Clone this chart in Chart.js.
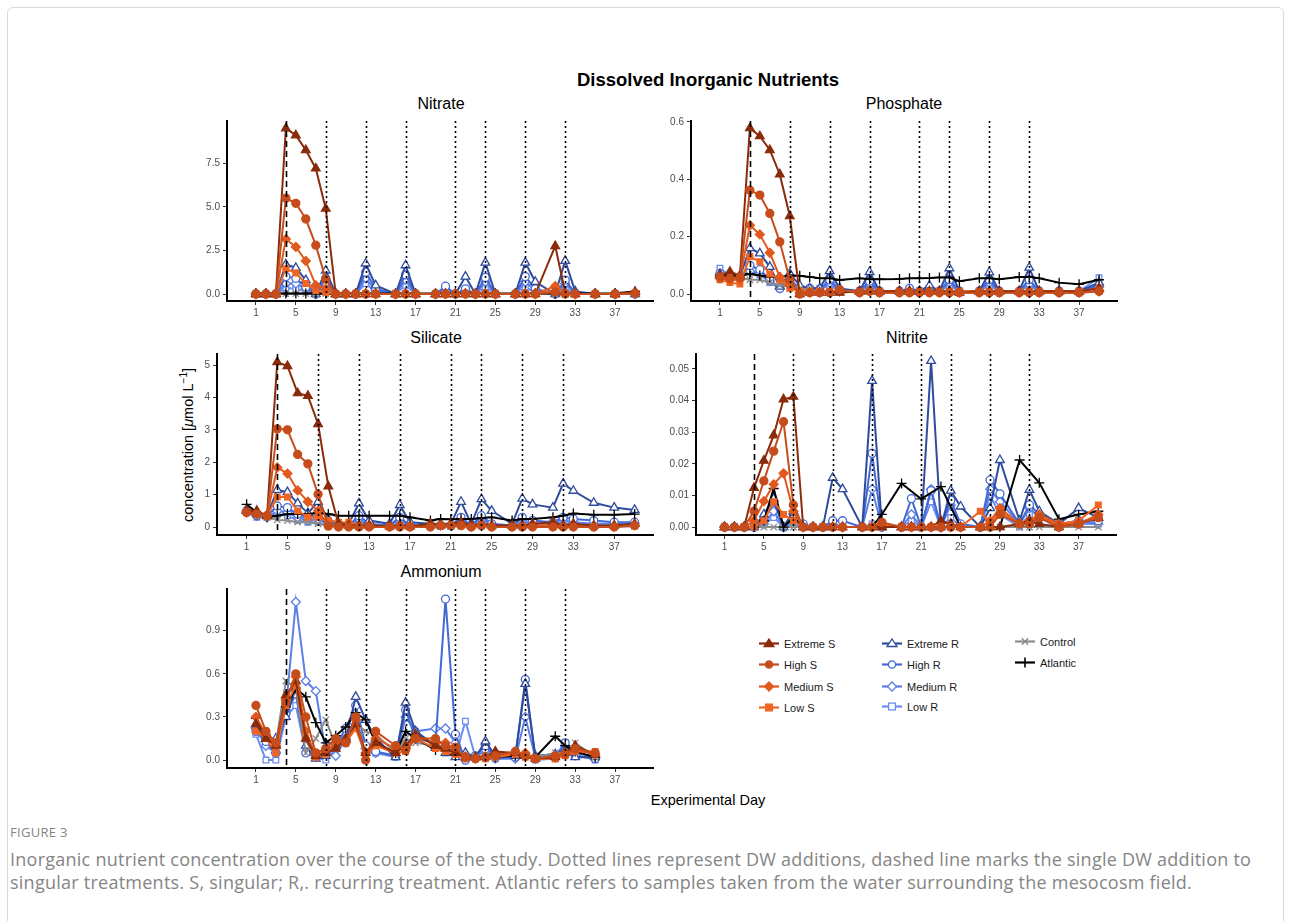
<!DOCTYPE html>
<html lang="en">
<head>
  <meta charset="utf-8">
  <title>Dissolved Inorganic Nutrients</title>
  <script src="https://cdn.jsdelivr.net/npm/chart.js@4.4.1/dist/chart.umd.min.js"></script>
  <style>
    html, body { margin: 0; padding: 0; background: #fff; }
    #page { position: relative; width: 1290px; height: 921px; overflow: hidden; font-family: 'Liberation Sans', Arial, sans-serif; }
    #frame { position: absolute; left: 7px; top: 7px; width: 1275px; height: 940px; border: 1px solid #d9d9d9; border-radius: 6px; }
    .panel { position: absolute; }
    .txt { position: absolute; white-space: nowrap; color: #000; }
    .ptitle { font-size: 16px; transform: translateX(-50%); }
    .leg { position: absolute; font-size: 11px; color: #1a1a1a; white-space: nowrap; }
    .leg svg { position: absolute; left: 0; top: -1px; }
    .leg span { position: absolute; left: 27px; top: 0; }
    .cap { position: absolute; left: 10px; white-space: nowrap; color: #858585; font-family: 'Open Sans', sans-serif; }
  </style>
</head>
<body>
<div id="page">
  <div id="frame"></div>

  <div class="txt" style="left:708px; top:69px; transform:translateX(-50%); font-size:18.5px; font-weight:bold;">Dissolved Inorganic Nutrients</div>
  <div class="txt ptitle" style="left:441px; top:95px;">Nitrate</div>
  <div class="txt ptitle" style="left:904px; top:95px;">Phosphate</div>
  <div class="txt ptitle" style="left:436px; top:329px;">Silicate</div>
  <div class="txt ptitle" style="left:907px; top:329px;">Nitrite</div>
  <div class="txt ptitle" style="left:441px; top:563px;">Ammonium</div>
  <div class="txt" style="left:187px; top:445px; font-size:14.5px; transform:translate(-50%,-50%) rotate(-90deg);">concentration [<i>μ</i>mol L<sup style="font-size:10px;">−1</sup>]</div>
  <div class="txt" style="left:708px; top:792px; transform:translateX(-50%); font-size:14.5px;">Experimental Day</div>

  <canvas id="nitrate" class="panel"></canvas>
  <canvas id="phosphate" class="panel"></canvas>
  <canvas id="silicate" class="panel"></canvas>
  <canvas id="nitrite" class="panel"></canvas>
  <canvas id="ammonium" class="panel"></canvas>

  <div id="legend"></div>

  <div class="cap" style="top:823px; font-size:13px; letter-spacing:0.3px;">FIGURE 3</div>
  <div class="cap" style="top:847px; font-size:18px; letter-spacing:0.25px;">Inorganic nutrient concentration over the course of the study. Dotted lines represent DW additions, dashed line marks the single DW addition to</div>
  <div class="cap" style="top:870px; font-size:18px; letter-spacing:0.25px;">singular treatments. S, singular; R,. recurring treatment. Atlantic refers to samples taken from the water surrounding the mesocosm field.</div>
</div>

<script>
// sampling days and axis ticks
const days = [1,2,3,4,5,6,7,8,9,10,11,12,13,15,16,17,19,20,21,22,23,24,25,27,28,29,31,32,33,35,37,39];
const xTicks = [1,5,9,13,17,21,25,29,33,37];
const dwDays = [8,12,16,21,24,28,32];   // dotted lines
const singleDwDay = 4;                  // dashed line

const seriesNames = ['Extreme S','High S','Medium S','Low S','Extreme R','High R','Medium R','Low R','Control','Atlantic'];

// ---- Nitrate
const nitrateTicks = [0, 2.5, 5, 7.5];
const nitrateExtremeS = [0,0,0,9.5,9.1,8.25,7.2,4.9,0,0,0,0,0,0,0,0,0,0,0,0,0,0,0,0,0,0,2.75,0.1,0,0,0,0.12];
const nitrateHighS    = [0,0,0,5.5,5.2,4.3,2.8,0.85,0,0,0,0,0,0,0,0,0,0,0,0,0,0,0,0,0,0,0.1,0,0,0,0,0.05];
const nitrateMediumS  = [0,0,0,3.15,2.7,1.9,0.5,0.3,0,0,0,0,0,0,0,0,0,0,0,0,0,0,0,0,0,0,0.45,0.05,0,0,0,0.05];
const nitrateLowS     = [0,0,0,1.45,1.2,0.6,0.2,0.1,0,0,0,0,0,0,0,0,0,0,0,0,0,0,0,0,0,0,0.2,0,0,0,0,0.02];
const nitrateExtremeR = [0,0,0,1.7,1.5,0.8,0,1.35,0,0,0,1.75,0.5,0,1.65,0,0,0,0,1.0,0,1.8,0,0,1.8,0.7,0,1.9,0.15,0,0,0];
const nitrateHighR    = [0,0,0,1.0,0.9,0.4,0,0.9,0,0,0,1.25,0.3,0,1.1,0,0,0.45,0,0.3,0,0.95,0,0,1.0,0.3,0,0.8,0.05,0,0,0];
const nitrateMediumR  = [0,0,0,0.6,0.6,0.3,0,0.6,0,0,0,0.9,0.2,0,0.8,0,0,0.2,0,0.2,0,0.7,0,0,0.7,0.2,0,0.6,0.05,0,0,0];
const nitrateLowR     = [0,0,0,0.35,0.3,0.15,0,0.3,0,0,0,0.6,0.1,0,0.5,0,0,0.3,0,0.1,0,0.4,0,0,0.4,0.1,0,0.35,0,0,0,0];
const nitrateControl  = [0,0,0,0.02,0.02,0.02,0,0.02,0,0,0,0.02,0,0,0.02,0,0,0,0,0,0,0,0,0,0,0,0,0,0,0,0,0];
const nitrateAtlantic = [0.03,0.03,0.03,0.03,0.03,0.03,0.03,0.03,0.03,0.03,0.03,0.03,0.03,0.03,0.03,0.03,0.03,0.03,0.03,0.03,0.03,0.03,0.03,0.03,0.03,0.03,0.03,0.03,0.03,0.03,0.05,0.15];

// ---- Phosphate
const phosphateTicks = [0, 0.2, 0.4, 0.6];
const phosphateExtremeS = [0.065,0.078,0.065,0.578,0.55,0.502,0.417,0.272,0,0.005,0.005,0.005,0.005,0.01,0.01,0.01,0.01,0.01,0.01,0.01,0.01,0.01,0.005,0.01,0.01,0.01,0.01,0.01,0.01,0.01,0.01,0.02];
const phosphateHighS    = [0.06,0.055,0.058,0.362,0.345,0.281,0.182,0.05,0,0.005,0.005,0.005,0.015,0.005,0.01,0.005,0.005,0.005,0.005,0.005,0.005,0.005,0.005,0.005,0.005,0.005,0.005,0.005,0.005,0.005,0.005,0.01];
const phosphateMediumS  = [0.055,0.05,0.05,0.24,0.208,0.144,0.06,0.03,0.005,0.005,0.005,0.005,0.01,0.005,0.01,0.005,0.005,0.005,0.005,0.005,0.005,0.005,0.005,0.005,0.005,0.005,0.005,0.005,0.005,0.005,0.005,0.01];
const phosphateLowS     = [0.05,0.04,0.035,0.13,0.113,0.07,0.05,0.02,0.01,0.01,0.01,0.01,0.01,0.01,0.01,0.01,0.01,0.01,0.01,0.01,0.01,0.01,0.01,0.01,0.01,0.01,0.01,0.01,0.01,0.01,0.01,0.02];
const phosphateExtremeR = [0.07,0.06,0.06,0.16,0.142,0.095,0.026,0.072,0.03,0.02,0.02,0.08,0.02,0.01,0.077,0.01,0.01,0.01,0.01,0.03,0.01,0.09,0.01,0.01,0.076,0.01,0.01,0.092,0.01,0.01,0.01,0.04];
const phosphateHighR    = [0.072,0.06,0.058,0.1,0.085,0.05,0.02,0.05,0.02,0.02,0.015,0.05,0.015,0.01,0.045,0.01,0.01,0.02,0.01,0.02,0.01,0.05,0.01,0.01,0.05,0.01,0.01,0.05,0.01,0.01,0.01,0.03];
const phosphateMediumR  = [0.07,0.058,0.055,0.08,0.07,0.045,0.02,0.04,0.02,0.015,0.01,0.04,0.01,0.01,0.035,0.01,0.01,0.01,0.01,0.015,0.01,0.04,0.01,0.01,0.04,0.01,0.01,0.035,0.01,0.01,0.01,0.025];
const phosphateLowR     = [0.09,0.065,0.06,0.08,0.07,0.04,0.02,0.04,0.02,0.02,0.02,0.03,0.01,0.01,0.03,0.01,0.01,0.01,0.01,0.01,0.01,0.03,0.01,0.01,0.03,0.01,0.01,0.03,0.01,0.01,0.01,0.057];
const phosphateControl  = [0.06,0.055,0.055,0.05,0.05,0.04,0.03,0.03,0.02,0.015,0.01,0.01,0.01,0.01,0.01,0.01,0.01,0.01,0.01,0.01,0.01,0.01,0.01,0.01,0.01,0.01,0.01,0.01,0.01,0.01,0.01,0.01];
const phosphateAtlantic = [0.065,0.065,0.065,0.07,0.065,0.06,0.06,0.065,0.064,0.06,0.055,0.055,0.049,0.055,0.052,0.052,0.053,0.055,0.055,0.056,0.058,0.058,0.045,0.055,0.055,0.052,0.06,0.06,0.055,0.04,0.034,0.05];

// ---- Silicate
const silicateTicks = [0, 1, 2, 3, 4, 5];
const silicateExtremeS = [0.5,0.5,0.34,5.09,4.97,4.13,4.05,3.18,1.26,0.1,0.05,0.05,0.05,0.02,0.05,0.02,0.1,0.05,0.1,0.15,0.05,0.1,0.05,0.05,0.05,0.1,0.15,0.05,0.1,0.05,0.05,0.1];
const silicateHighS    = [0.45,0.4,0.35,3.03,3.0,2.24,1.95,1.01,0.03,0,0,0,0,0,0,0,0,0.05,0.05,0.05,0,0.05,0,0,0,0,0,0,0,0,0,0.05];
const silicateMediumS  = [0.5,0.4,0.35,1.84,1.65,1.13,0.78,0.5,0.05,0.05,0.05,0.05,0.05,0.02,0.05,0.02,0.05,0.05,0.05,0.05,0.02,0.05,0.02,0.02,0.02,0.05,0.05,0.02,0.05,0.02,0.02,0.05];
const silicateLowS     = [0.45,0.4,0.35,0.93,0.93,0.5,0.3,0.3,0.2,0.15,0.15,0.05,0.05,0.02,0.05,0.02,0.05,0.05,0.05,0.05,0.02,0.05,0.02,0.02,0.02,0.05,0.05,0.02,0.05,0.02,0.02,0.05];
const silicateExtremeR = [0.55,0.4,0.35,1.15,1.08,0.73,0.43,0.78,0.25,0.1,0.1,0.73,0.2,0.1,0.68,0.15,0.1,0.1,0.1,0.78,0.1,0.86,0.5,0.1,0.88,0.7,0.6,1.34,1.12,0.75,0.6,0.53];
const silicateHighR    = [0.5,0.35,0.35,0.65,0.6,0.4,0.3,0.35,0.15,0.1,0.05,0.35,0.1,0.05,0.3,0.05,0.05,0.05,0.05,0.3,0.05,0.35,0.1,0.05,0.3,0.2,0.15,0.3,0.25,0.2,0.15,0.15];
const silicateMediumR  = [0.45,0.35,0.3,0.5,0.45,0.3,0.2,0.25,0.1,0.05,0.05,0.25,0.05,0.05,0.2,0.05,0.05,0.05,0.05,0.2,0.05,0.25,0.05,0.05,0.2,0.1,0.1,0.2,0.15,0.1,0.1,0.1];
const silicateLowR     = [0.45,0.3,0.3,0.4,0.35,0.2,0.15,0.15,0.05,0.05,0.05,0.15,0.05,0.02,0.1,0.02,0.02,0.02,0.02,0.1,0.02,0.15,0.02,0.02,0.1,0.05,0.05,0.1,0.1,0.05,0.05,0.05];
const silicateControl  = [0.5,0.35,0.3,0.22,0.2,0.15,0.15,0.1,0.05,0.05,0.03,0.03,0.03,0.02,0.02,0.02,0.02,0.02,0.02,0.02,0.02,0.02,0.02,0.02,0.02,0.02,0.02,0.02,0.02,0.02,0.02,0.02];
const silicateAtlantic = [0.7,0.45,0.3,0.35,0.4,0.4,0.4,0.44,0.4,0.35,0.35,0.35,0.35,0.35,0.35,0.3,0.2,0.25,0.24,0.25,0.25,0.28,0.3,0.2,0.25,0.25,0.3,0.35,0.42,0.38,0.38,0.4];

// ---- Nitrite
const nitriteTicks = [0, 0.01, 0.02, 0.03, 0.04, 0.05];
const nitriteExtremeS = [0,0,0,0.0124,0.021,0.029,0.0404,0.0412,0,0,0,0,0,0,0,0,0,0,0,0,0.002,0.001,0,0,0,0,0.001,0.002,0.001,0,0.001,0.003];
const nitriteHighS    = [0,0,0,0.005,0.0146,0.024,0.0333,0.007,0,0,0,0,0,0,0,0.0015,0,0,0,0,0,0,0,0,0,0.004,0.001,0.001,0.003,0,0.001,0.003];
const nitriteMediumS  = [0,0,0,0.002,0.0082,0.0135,0.017,0.005,0,0,0,0,0,0,0,0.001,0,0,0,0,0,0,0,0,0.002,0.006,0.001,0.002,0.004,0.001,0.001,0.004];
const nitriteLowS     = [0,0,0,0,0.002,0.008,0.004,0.002,0,0,0,0,0,0,0,0,0,0,0,0,0,0,0,0.005,0.001,0.005,0.001,0.002,0.003,0.001,0.002,0.007];
const nitriteExtremeR = [0,0,0,0,0.004,0.009,0,0.005,0,0,0,0.0156,0.012,0,0.0462,0,0,0,0,0.0525,0,0.0115,0.0065,0,0.006,0.0212,0.002,0.0118,0.005,0.001,0.006,0.003];
const nitriteHighR    = [0,0,0,0,0.002,0.008,0,0.004,0.001,0,0,0.002,0.002,0,0.0233,0,0,0.009,0,0.0115,0,0.0085,0.001,0,0.0149,0.0105,0.001,0.007,0.004,0.001,0.002,0.002];
const nitriteMediumR  = [0,0,0,0,0.001,0.005,0,0.002,0,0,0,0.001,0,0,0.012,0,0,0.004,0,0.012,0,0.007,0,0,0.012,0.008,0.001,0.006,0.003,0,0.002,0.001];
const nitriteLowR     = [0,0,0,0,0.001,0.003,0,0.001,0,0,0,0,0,0,0.001,0,0,0.002,0,0.008,0,0.003,0,0,0.01,0.004,0,0.004,0.001,0,0.001,0.001];
const nitriteControl  = [0,0,0,0,0,0,0,0,0,0,0,0,0,0,0,0,0,0,0,0,0,0,0,0,0,0,0,0,0,0,0,0];
const nitriteAtlantic = [0,0,0,0,0.002,0.0122,0,0.003,0,0,0,0,0,0,0,0.004,0.0138,null,0.0089,null,0.0128,null,0,0,0,0,0.0212,null,0.014,0.0025,0.004,0.005];

// ---- Ammonium (sampled to day 35)
const ammoniumTicks = [0, 0.3, 0.6, 0.9];
const ammoniumExtremeS = [0.25,0.15,0.1,0.45,0.55,0.15,0.03,0.05,0.08,0.15,0.25,0.05,0.12,0.05,0.1,0.18,0.1,0.08,0.05,0.02,0.02,0.02,0.06,0.05,0.03,0.01,0.02,0.05,0.1,0.04,null,null];
const ammoniumHighS    = [0.38,0.2,0.12,0.4,0.6,0.3,0.05,0.08,0.15,0.12,0.3,0.0,0.2,0.1,0.07,0.15,0.15,0.1,0.09,0.02,0.01,0.02,0.03,0.06,0.03,0.01,0.03,0.04,0.08,0.05,null,null];
const ammoniumMediumS  = [0.3,0.18,0.1,0.42,0.58,0.2,0.03,0.06,0.12,0.14,0.28,0.05,0.15,0.08,0.08,0.16,0.12,0.12,0.07,0.02,0.01,0.02,0.04,0.05,0.05,0.01,0.02,0.05,0.07,0.04,null,null];
const ammoniumLowS     = [0.2,0.15,0.05,0.38,0.52,0.15,0.02,0.04,0.1,0.12,0.22,0.03,0.1,0.05,0.06,0.15,0.08,0.06,0.04,0.01,0.01,0.01,0.02,0.04,0.02,0.01,0.01,0.03,0.06,0.06,null,null];
const ammoniumExtremeR = [0.25,0.15,0.15,0.3,0.5,0.1,0.01,0.03,0.1,0.14,0.44,0.28,0.15,0.02,0.4,0.2,0.1,0.05,0.02,0.05,0.02,0.13,0.03,0.03,0.53,0.03,0.04,0.07,0.02,0.02,null,null];
const ammoniumHighR    = [0.2,0.13,0.05,0.32,0.46,0.05,0.02,0.04,0.1,0.22,0.38,0.1,0.06,0.03,0.35,0.15,0.12,1.12,0.18,0.0,0.03,0.1,0.02,0.02,0.56,0.02,0.03,0.12,0.03,0.01,null,null];
const ammoniumMediumR  = [0.22,0.1,0.05,0.35,1.1,0.55,0.48,0.05,0.03,0.15,0.25,0.08,0.05,0.03,0.3,0.2,0.22,0.22,0.12,0.02,0.02,0.07,0.01,0.01,0.3,0.02,0.02,0.1,0.05,0.02,null,null];
const ammoniumLowR     = [0.18,0.0,0.0,0.3,0.38,0.05,0.02,0.0,0.08,0.15,0.28,0.1,0.05,0.02,0.3,0.2,0.1,0.05,0.03,0.27,0.02,0.07,0.01,0.02,0.03,0.0,0.01,0.12,0.04,0.0,null,null];
const ammoniumControl  = [0.22,0.15,0.12,0.55,0.5,0.05,0.15,0.28,0.1,0.12,0.25,0.2,0.18,0.05,0.15,0.12,0.1,0.1,0.05,0.03,0.02,0.03,0.02,0.04,0.03,0.02,0.05,0.05,0.12,0.02,null,null];
const ammoniumAtlantic = [0.29,0.17,0.09,0.37,0.5,0.44,0.26,0.12,0.17,0.23,0.33,0.28,0.12,0.05,0.2,0.15,0.07,0.09,0.04,0.02,0.02,0.02,0.02,0.03,0.02,0.02,0.166,0.1,0.06,0.02,null,null];

// styles per series (same order as seriesNames)
const styles = [
  { color: '#8a2c0b', shape: 'triangle', r: 5,   fill: true },
  { color: '#c64d1b', shape: 'circle',   r: 4,   fill: true },
  { color: '#e0591e', shape: 'rectRot',  r: 4.5, fill: true },
  { color: '#f06522', shape: 'rect',     r: 4,   fill: true },
  { color: '#2f4b9c', shape: 'triangle', r: 5,   fill: false },
  { color: '#4469d6', shape: 'circle',   r: 4,   fill: false },
  { color: '#5a80e4', shape: 'rectRot',  r: 4.5, fill: false },
  { color: '#6b8ef0', shape: 'rect',     r: 4,   fill: false },
  { color: '#8c8c8c', shape: 'crossRot', r: 4.5, fill: false },
  { color: '#000000', shape: 'cross',    r: 5,   fill: false }
];
// dataset order: first one ends up on top (singular on top, recurring at the back)
const drawOrder = [1, 0, 2, 3, 9, 8, 4, 5, 6, 7];

const xMin = -1.9, xMax = 40.8;
const Y_W = 40, X_H = 22, PAD_T = 8, PAD_R = 12;

const vlinePlugin = {
  id: 'vlines',
  afterDatasetsDraw(chart) {
    const { ctx, chartArea: a, scales: { x } } = chart;
    ctx.save();
    ctx.strokeStyle = '#000';
    ctx.lineWidth = 1.6;
    ctx.setLineDash([2, 3]);
    dwDays.forEach(d => {
      const px = Math.round(x.getPixelForValue(d)) + 0.5;
      ctx.beginPath(); ctx.moveTo(px, a.top); ctx.lineTo(px, a.bottom); ctx.stroke();
    });
    ctx.setLineDash([6, 4]);
    const px = Math.round(x.getPixelForValue(singleDwDay)) + 0.5;
    ctx.beginPath(); ctx.moveTo(px, a.top); ctx.lineTo(px, a.bottom); ctx.stroke();
    ctx.restore();
  }
};

function makePanel(id, box, series, yMin, yMax, yTicks, dec) {
  const cv = document.getElementById(id);
  const w = box.right - box.left + Y_W + PAD_R;
  const h = box.bottom - box.top + PAD_T + X_H;
  cv.style.left = (box.left - Y_W) + 'px';
  cv.style.top = (box.top - PAD_T) + 'px';
  cv.style.width = w + 'px';
  cv.style.height = h + 'px';
  cv.width = w; cv.height = h;

  const datasets = drawOrder.map(i => {
    const s = styles[i];
    return {
      label: seriesNames[i],
      data: days.map((d, k) => ({ x: d, y: series[i][k] })),
      borderColor: s.color,
      borderWidth: 2,
      pointStyle: s.shape,
      pointRadius: s.r,
      pointBorderWidth: 1.3,
      pointBorderColor: s.color,
      pointBackgroundColor: s.fill ? s.color : '#ffffff',
      spanGaps: true,
      clip: false
    };
  });

  new Chart(cv, {
    type: 'line',
    data: { datasets },
    plugins: [vlinePlugin],
    options: {
      responsive: false,
      animation: false,
      devicePixelRatio: 1,
      layout: { padding: { top: PAD_T, right: PAD_R, left: 0, bottom: 0 } },
      plugins: { legend: { display: false }, tooltip: { enabled: false } },
      elements: { line: { tension: 0 } },
      scales: {
        x: {
          type: 'linear', min: xMin, max: xMax,
          afterBuildTicks: sc => { sc.ticks = xTicks.map(v => ({ value: v })); },
          afterFit: sc => { sc.height = X_H; },
          grid: { display: true, drawOnChartArea: false, drawTicks: true, tickLength: 4, color: '#333', lineWidth: 1 },
          border: { display: true, color: '#000', width: 2 },
          ticks: { font: { size: 10, family: 'Liberation Sans' }, color: '#4d4d4d', padding: 2, maxRotation: 0, autoSkip: false,
                   callback: v => String(v) }
        },
        y: {
          type: 'linear', min: yMin, max: yMax,
          afterBuildTicks: sc => { sc.ticks = yTicks.map(v => ({ value: v })); },
          afterFit: sc => { sc.width = Y_W; },
          grid: { display: true, drawOnChartArea: false, drawTicks: true, tickLength: 4, color: '#333', lineWidth: 1 },
          border: { display: true, color: '#000', width: 2 },
          ticks: { font: { size: 10, family: 'Liberation Sans' }, color: '#4d4d4d', padding: 3,
                   callback: v => Number(v).toFixed(dec) }
        }
      }
    }
  });
}

makePanel('nitrate', { left: 227, right: 653, top: 120, bottom: 301 },
  [nitrateExtremeS, nitrateHighS, nitrateMediumS, nitrateLowS, nitrateExtremeR, nitrateHighR, nitrateMediumR, nitrateLowR, nitrateControl, nitrateAtlantic],
  -0.4, 9.92, nitrateTicks, 1);
makePanel('phosphate', { left: 691, right: 1117, top: 120, bottom: 301 },
  [phosphateExtremeS, phosphateHighS, phosphateMediumS, phosphateLowS, phosphateExtremeR, phosphateHighR, phosphateMediumR, phosphateLowR, phosphateControl, phosphateAtlantic],
  -0.024, 0.603, phosphateTicks, 1);
makePanel('silicate', { left: 217, right: 653, top: 353, bottom: 535 },
  [silicateExtremeS, silicateHighS, silicateMediumS, silicateLowS, silicateExtremeR, silicateHighR, silicateMediumR, silicateLowR, silicateControl, silicateAtlantic],
  -0.245, 5.34, silicateTicks, 0);
makePanel('nitrite', { left: 696, right: 1116, top: 353, bottom: 535 },
  [nitriteExtremeS, nitriteHighS, nitriteMediumS, nitriteLowS, nitriteExtremeR, nitriteHighR, nitriteMediumR, nitriteLowR, nitriteControl, nitriteAtlantic],
  -0.0025, 0.0547, nitriteTicks, 2);
makePanel('ammonium', { left: 227, right: 653, top: 588, bottom: 768 },
  [ammoniumExtremeS, ammoniumHighS, ammoniumMediumS, ammoniumLowS, ammoniumExtremeR, ammoniumHighR, ammoniumMediumR, ammoniumLowR, ammoniumControl, ammoniumAtlantic],
  -0.055, 1.19, ammoniumTicks, 1);

// legend (HTML with small svg keys)
function keySvg(s) {
  const c = s.color, f = s.fill ? c : '#fff';
  let m = '';
  if (s.shape === 'triangle') m = `<polygon points="12,2 17,9.5 7,9.5" fill="${f}" stroke="${c}" stroke-width="1.3"/>`;
  else if (s.shape === 'circle') m = `<circle cx="12" cy="6.5" r="3.6" fill="${f}" stroke="${c}" stroke-width="1.3"/>`;
  else if (s.shape === 'rectRot') m = `<polygon points="12,2 16.5,6.5 12,11 7.5,6.5" fill="${f}" stroke="${c}" stroke-width="1.3"/>`;
  else if (s.shape === 'rect') m = `<rect x="8.6" y="3.1" width="6.8" height="6.8" fill="${f}" stroke="${c}" stroke-width="1.3"/>`;
  else if (s.shape === 'crossRot') m = `<path d="M8.8,3.3 L15.2,9.7 M15.2,3.3 L8.8,9.7" stroke="${c}" stroke-width="1.4"/>`;
  else if (s.shape === 'cross') m = `<path d="M12,1.5 L12,11.5" stroke="${c}" stroke-width="1.6"/>`;
  return `<svg width="24" height="13"><line x1="2" y1="6.5" x2="22" y2="6.5" stroke="${c}" stroke-width="2.2"/>${m}</svg>`;
}
const legendPos = [
  [757, 638], [757, 659], [757, 681], [757, 702],
  [880, 638], [880, 659], [880, 681], [880, 701],
  [1013, 636], [1013, 657]
];
const lg = document.getElementById('legend');
seriesNames.forEach((n, i) => {
  const d = document.createElement('div');
  d.className = 'leg';
  d.style.left = legendPos[i][0] + 'px';
  d.style.top = legendPos[i][1] + 'px';
  d.innerHTML = keySvg(styles[i]) + `<span>${n}</span>`;
  lg.appendChild(d);
});
</script>
</body>
</html>
